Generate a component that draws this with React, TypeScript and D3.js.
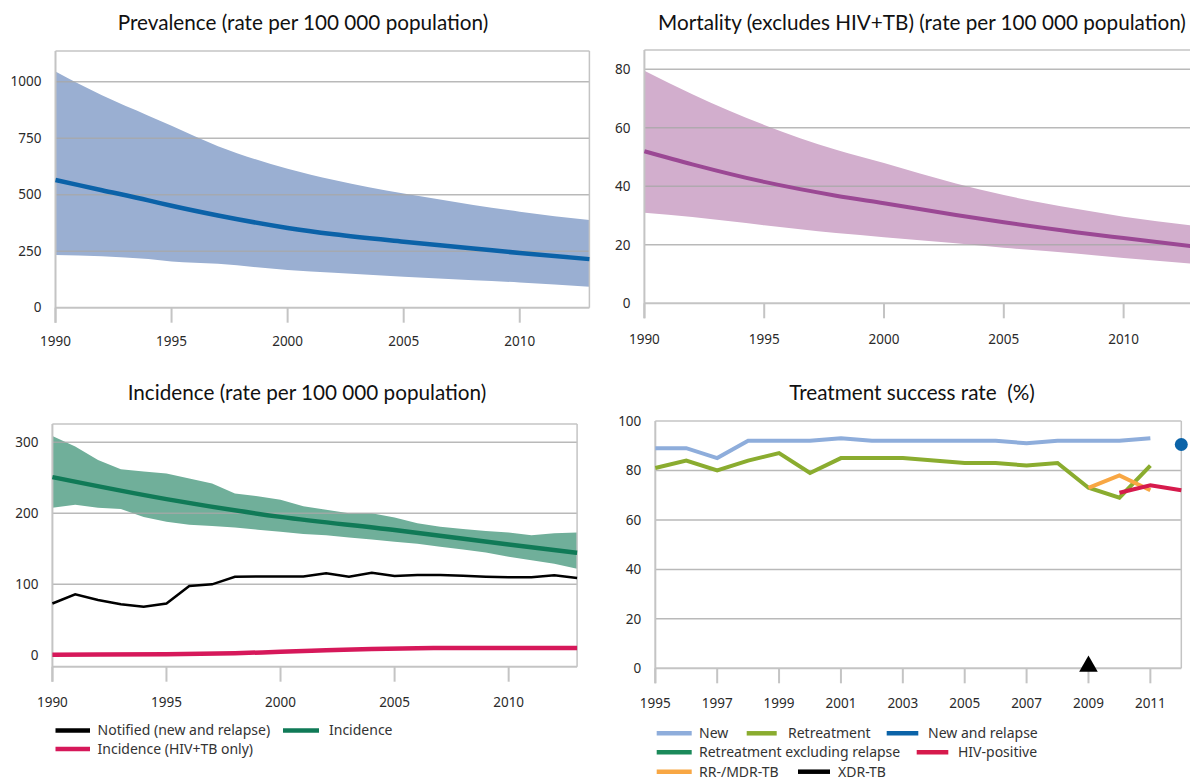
import * as d3 from 'd3'

// Prevalence (rate per 100 000 population)
const prevYears = [1990, 1992, 1994, 1995, 1997, 2000, 2002, 2005, 2008, 2010, 2013]
const prevUpper = [1045, 940, 850, 805, 715, 615, 565, 505, 455, 425, 388]
const prevLower = [233, 228, 215, 204, 194, 167, 155, 137, 122, 112, 93]
const prevRate = [565, 520, 475, 451, 408, 353, 325, 292, 262, 242, 215]

// Mortality (excludes HIV+TB)
const mortYears = [1990, 1992, 1995, 1998, 2000, 2003, 2005, 2008, 2010, 2013]
const mortUpper = [79.5, 71.5, 61, 52.5, 48, 41, 37, 32.3, 29.6, 26.5]
const mortLower = [31, 29.5, 26.7, 24, 22.6, 20.5, 19, 17, 15.5, 13.5]
const mortRate = [52, 47.5, 41.5, 36.8, 34.2, 30.2, 27.7, 24.3, 22.3, 19.4]

// Incidence
const incYears = [1990, 1991, 1992, 1993, 1994, 1995, 1996, 1997, 1998, 1999, 2000, 2001,
  2002, 2003, 2004, 2005, 2006, 2007, 2008, 2009, 2010, 2011, 2012, 2013]
const incUpper = [309, 294, 275, 262, 259, 256, 249, 242, 228, 224, 219, 210, 205, 200, 200, 194, 186, 181, 178, 175, 173, 169, 172, 173]
const incLower = [208, 212, 208, 206, 195, 188, 184, 182, 180, 177, 174, 171, 169, 166, 163, 160, 157, 153, 149, 145, 139, 134, 129, 122]
const notified = [73, 86, 78, 72, 68.5, 73, 97.6, 100, 110.7, 111, 111, 111, 115.5, 110.7, 116.4, 111.7, 113, 113, 112, 110.7, 110, 110, 112.7, 109]
const incRateYears = [1990, 1995, 2000, 2005, 2010, 2013]
const incRate = [251, 220, 195, 176.5, 156, 144.5]
const hivYears = [1990, 1995, 1998, 2000, 2002, 2004, 2006, 2008, 2010, 2013]
const hivInc = [1, 1.5, 3, 5, 7, 9, 10, 10.5, 10.5, 10.5]

// Treatment success rate (%)
const txYears = [1995, 1996, 1997, 1998, 1999, 2000, 2001, 2002, 2003, 2004, 2005, 2006, 2007, 2008, 2009, 2010, 2011]
const txNew = [89, 89, 85, 92, 92, 92, 93, 92, 92, 92, 92, 92, 91, 92, 92, 92, 93]
const txRetreat = [81, 84, 80, 84, 87, 79, 85, 85, 85, 84, 83, 83, 82, 83, 73, 69, 82]
const mdrYears = [2009, 2010, 2011]
const txMdr = [73, 78, 72]
const hivPosYears = [2010, 2011, 2012]
const txHivPos = [71, 74, 72]
const newRelapseYear = 2012
const txNewRelapse = 90.5
const xdrYear = 2009
const txXdr = 0

const TICK_FONT = '"Noto Sans", sans-serif'
const TITLE_FONT = 'Lato, sans-serif'
const GRID = '#a8a8a8'
const FRAME = '#c4c4c4'

type Lin = d3.ScaleLinear<number, number>

function Axes({ x, y, xTicks, grid, yTicks, labelY }: {
  x: Lin, y: Lin, xTicks: number[], grid: number[], yTicks: number[], labelY: number
}) {
  const [l, r] = x.range()
  const [b, t] = y.range()
  const tickLen = 15
  return (
    <g>
      {grid.map(v => (
        <line key={'g' + v} x1={l} x2={r} y1={y(v)} y2={y(v)} stroke={GRID} strokeOpacity={0.8} strokeWidth={1.5} />
      ))}
      <line x1={l} x2={r} y1={t} y2={t} stroke={FRAME} strokeWidth={1.5} />
      <line x1={r} x2={r} y1={t} y2={b} stroke={FRAME} strokeWidth={1.5} />
      <line x1={l} x2={r} y1={b} y2={b} stroke={FRAME} strokeWidth={2} />
      <line x1={l} x2={l} y1={t} y2={b + tickLen} stroke={FRAME} strokeWidth={2} />
      {xTicks.map(v => (
        <g key={'x' + v}>
          <line x1={x(v)} x2={x(v)} y1={b} y2={b + tickLen} stroke={FRAME} strokeWidth={2} />
          <text x={x(v)} y={labelY} dy="0.35em" textAnchor="middle" fontSize={13.5} fill="#2a2a2a" fontFamily={TICK_FONT}>{v}</text>
        </g>
      ))}
      {yTicks.map(v => (
        <text key={'y' + v} x={l - 14} y={y(v)} dy="0.35em" textAnchor="end" fontSize={13.5} fill="#2a2a2a" fontFamily={TICK_FONT}>{v}</text>
      ))}
    </g>
  )
}

function Title({ x, y, text }: { x: number, y: number, text: string }) {
  return (
    <text x={x} y={y} textAnchor="middle" fontSize={20.7} fill="#111" fontFamily={TITLE_FONT} style={{ whiteSpace: 'pre' }}>{text}</text>
  )
}

function LegendItem({ x, y, w, color, label, tx }: { x: number, y: number, w: number, color: string, label: string, tx: number }) {
  return (
    <g>
      <line x1={x} x2={x + w} y1={y} y2={y} stroke={color} strokeWidth={4.5} />
      <text x={tx} y={y} dy="0.35em" fontSize={14} fill="#333" fontFamily={TICK_FONT}>{label}</text>
    </g>
  )
}

function band(xs: number[], lo: number[], hi: number[], x: Lin, y: Lin, curve: d3.CurveFactory) {
  return d3.area<number>()
    .x(i => x(xs[i]))
    .y0(i => y(lo[i]))
    .y1(i => y(hi[i]))
    .curve(curve)(xs.map((_, i) => i)) || ''
}

function path(xs: number[], vs: number[], x: Lin, y: Lin, curve: d3.CurveFactory) {
  return d3.line<number>()
    .x(i => x(xs[i]))
    .y(i => y(vs[i]))
    .curve(curve)(xs.map((_, i) => i)) || ''
}

export default function App() {
  // Panel 1 - prevalence
  const x1 = d3.scaleLinear().domain([1990, 2013]).range([55.5, 589.4])
  const y1 = d3.scaleLinear().domain([0, 1136]).range([307.7, 51])
  // Panel 2 - mortality (right edge runs past the picture)
  const x2 = d3.scaleLinear().domain([1990, 2013]).range([644.4, 1195.5])
  const y2 = d3.scaleLinear().domain([0, 86.6]).range([303.3, 50])
  // Panel 3 - incidence
  const x3 = d3.scaleLinear().domain([1990, 2013]).range([52.4, 577.1])
  const y3 = d3.scaleLinear().domain([-16, 325.8]).range([666.7, 424])
  // Panel 4 - treatment success
  const x4 = d3.scaleLinear().domain([1995, 2012]).range([655.3, 1181.3])
  const y4 = d3.scaleLinear().domain([0, 100]).range([668.3, 421])

  const smooth = d3.curveMonotoneX
  const lin = d3.curveLinear
  const tri = d3.symbol().type(d3.symbolTriangle).size(150)() || ''

  return (
    <svg width={1190} height={780} style={{ position: 'absolute', left: 0, top: 0, background: '#fff' }}>
      {/* Prevalence */}
      <Title x={303} y={30} text="Prevalence (rate per 100 000 population)" />
      <path d={band(prevYears, prevLower, prevUpper, x1, y1, smooth)} fill="#9aafd2" />
      <Axes x={x1} y={y1} xTicks={[1990, 1995, 2000, 2005, 2010]} grid={[250, 500, 750, 1000]} yTicks={[0, 250, 500, 750, 1000]} labelY={341} />
      <path d={path(prevYears, prevRate, x1, y1, smooth)} fill="none" stroke="#0b62a8" strokeWidth={4.5} />

      {/* Mortality */}
      <Title x={922} y={30} text="Mortality (excludes HIV+TB) (rate per 100 000 population)" />
      <path d={band(mortYears, mortLower, mortUpper, x2, y2, smooth)} fill="#d2aecd" />
      <Axes x={x2} y={y2} xTicks={[1990, 1995, 2000, 2005, 2010]} grid={[20, 40, 60, 80]} yTicks={[0, 20, 40, 60, 80]} labelY={339} />
      <path d={path(mortYears, mortRate, x2, y2, smooth)} fill="none" stroke="#9b4894" strokeWidth={4} />

      {/* Incidence */}
      <Title x={307} y={400} text="Incidence (rate per 100 000 population)" />
      <path d={band(incYears, incLower, incUpper, x3, y3, lin)} fill="#70af9a" />
      <Axes x={x3} y={y3} xTicks={[1990, 1995, 2000, 2005, 2010]} grid={[100, 200, 300]} yTicks={[0, 100, 200, 300]} labelY={702} />
      <path d={path(incRateYears, incRate, x3, y3, smooth)} fill="none" stroke="#107a57" strokeWidth={4.5} />
      <path d={path(incYears, notified, x3, y3, lin)} fill="none" stroke="#000" strokeWidth={2.5} />
      <path d={path(hivYears, hivInc, x3, y3, smooth)} fill="none" stroke="#d6185a" strokeWidth={4.5} />
      <LegendItem x={55.5} y={730.5} w={34.5} color="#000" label="Notified (new and relapse)" tx={97.6} />
      <LegendItem x={283} y={730.5} w={36} color="#107a57" label="Incidence" tx={329} />
      <LegendItem x={55.5} y={749} w={34.5} color="#d6185a" label="Incidence (HIV+TB only)" tx={97.6} />

      {/* Treatment success */}
      <Title x={912} y={400} text="Treatment success rate  (%)" />
      <Axes x={x4} y={y4} xTicks={[1995, 1997, 1999, 2001, 2003, 2005, 2007, 2009, 2011]} grid={[20, 40, 60, 80]} yTicks={[0, 20, 40, 60, 80, 100]} labelY={703} />
      <path d={path(txYears, txNew, x4, y4, lin)} fill="none" stroke="#8eaddb" strokeWidth={4} />
      <path d={path(txYears, txRetreat, x4, y4, lin)} fill="none" stroke="#8aac2f" strokeWidth={4} />
      <path d={path(mdrYears, txMdr, x4, y4, lin)} fill="none" stroke="#f8a744" strokeWidth={4} />
      <path d={path(hivPosYears, txHivPos, x4, y4, lin)} fill="none" stroke="#d61a4c" strokeWidth={4} />
      <circle cx={x4(newRelapseYear)} cy={y4(txNewRelapse)} r={6.5} fill="#0b63a8" />
      <path d={tri} transform={`translate(${x4(xdrYear)},${y4(txXdr) - 2})`} fill="#000" />
      <LegendItem x={656.7} y={733.3} w={35} color="#8eaddb" label="New" tx={699} />
      <LegendItem x={746.7} y={733.3} w={30} color="#8aac2f" label="Retreatment" tx={788} />
      <LegendItem x={886.7} y={733.3} w={31.6} color="#0b63a8" label="New and relapse" tx={928} />
      <LegendItem x={656.7} y={752.3} w={35} color="#1b8a5a" label="Retreatment excluding relapse" tx={699} />
      <LegendItem x={916.7} y={752.3} w={31.6} color="#d61a4c" label="HIV-positive" tx={958} />
      <LegendItem x={656.7} y={771.7} w={35} color="#f8a744" label="RR-/MDR-TB" tx={699} />
      <LegendItem x={798} y={771.7} w={32} color="#000" label="XDR-TB" tx={838} />
    </svg>
  )
}
